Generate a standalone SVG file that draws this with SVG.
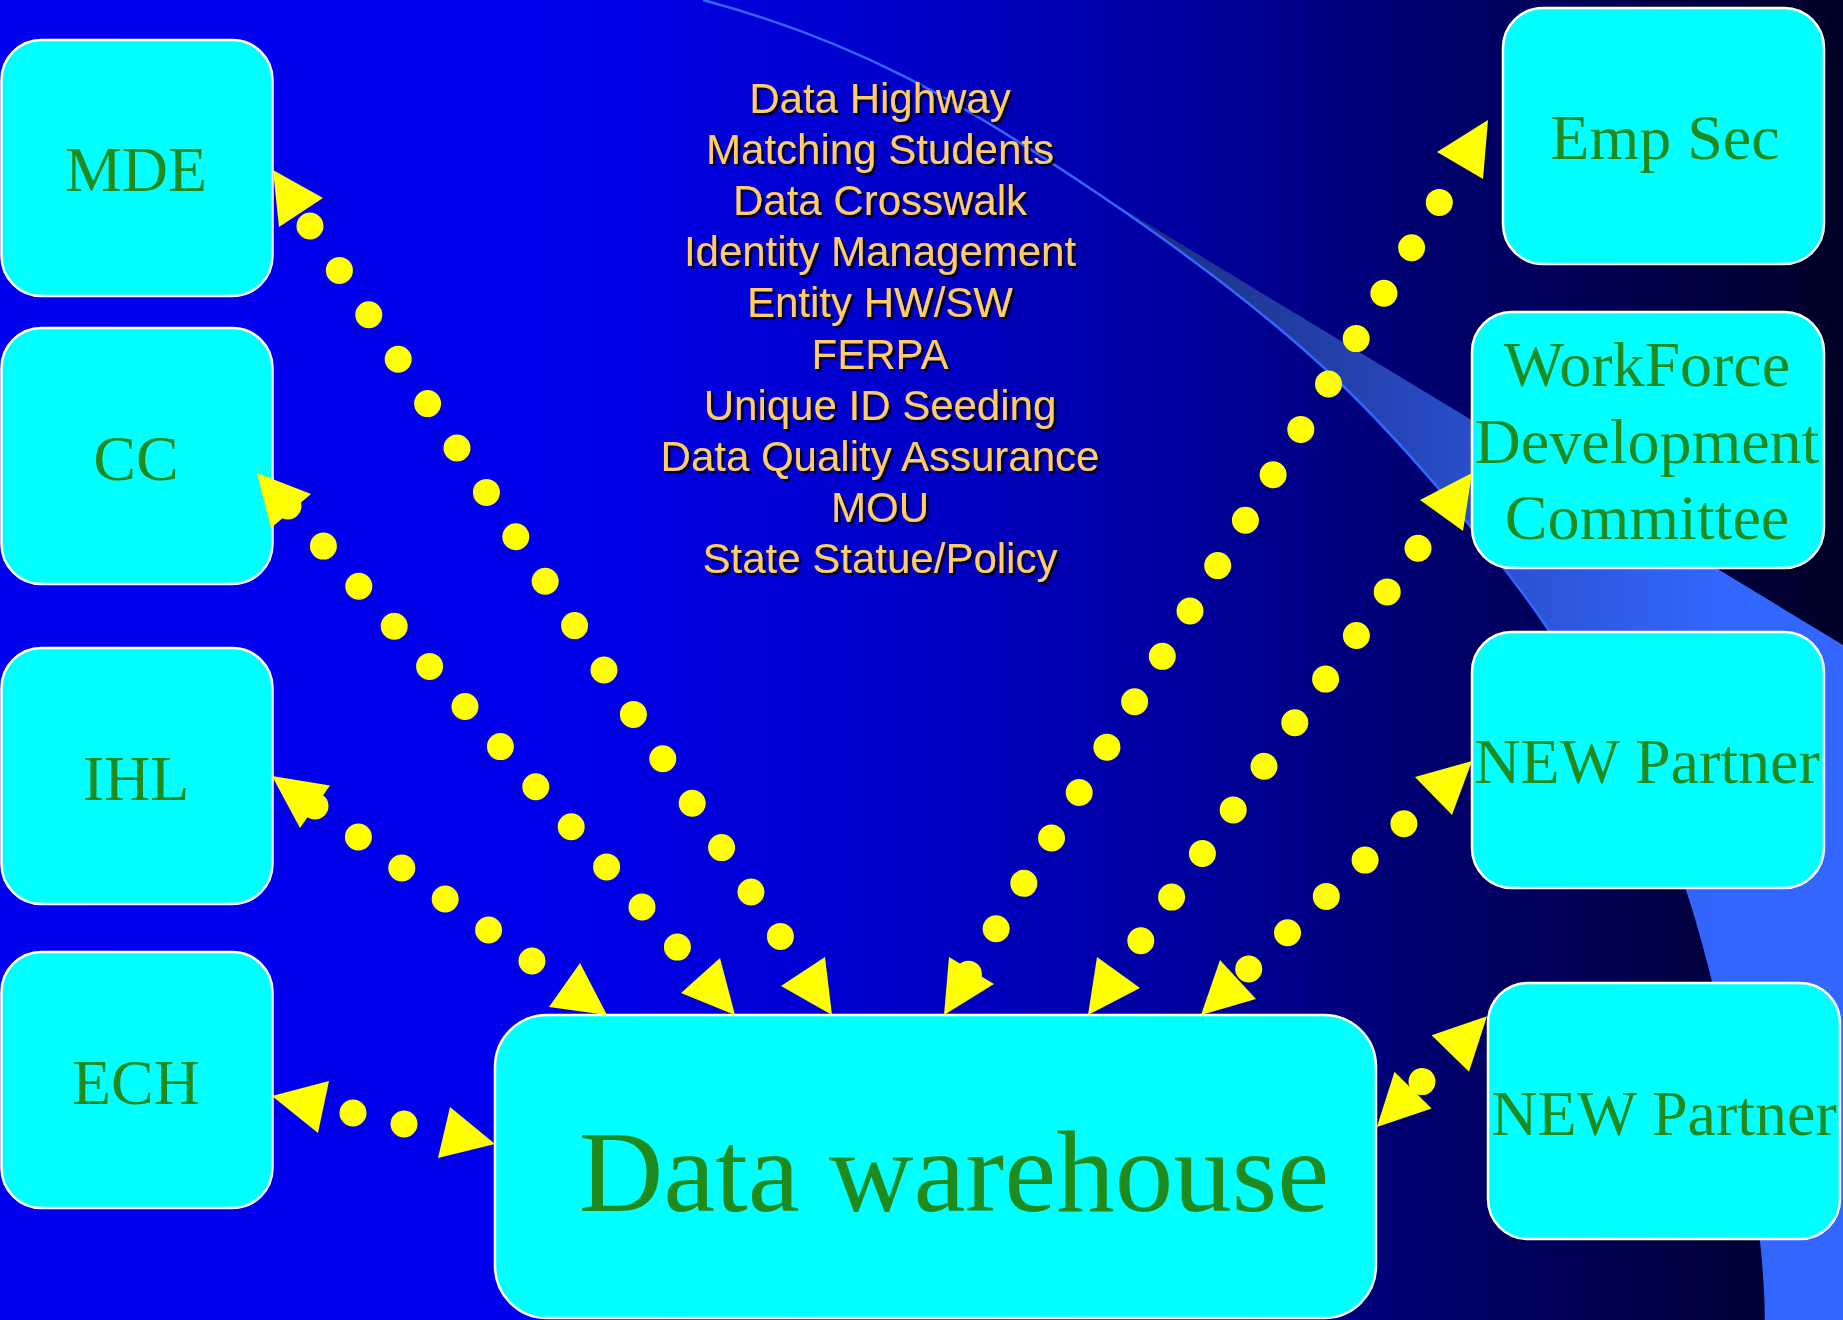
<svg xmlns="http://www.w3.org/2000/svg" width="1843" height="1320" viewBox="0 0 1843 1320">
<defs>
<linearGradient id="bg" gradientUnits="userSpaceOnUse" x1="0" y1="0" x2="1843" y2="0">
<stop offset="0" stop-color="#0000F0"/>
<stop offset="0.3" stop-color="#0000EC"/>
<stop offset="0.5" stop-color="#0000C8"/>
<stop offset="0.65" stop-color="#00009C"/>
<stop offset="0.8" stop-color="#000066"/>
<stop offset="1" stop-color="#000028"/>
</linearGradient>
<linearGradient id="swoosh" gradientUnits="userSpaceOnUse" x1="1100" y1="0" x2="1720" y2="0">
<stop offset="0" stop-color="#1A2A78"/>
<stop offset="1" stop-color="#3366FF"/>
</linearGradient>
<filter id="shadow" x="-10%" y="-30%" width="120%" height="160%">
<feDropShadow dx="2.5" dy="2.5" stdDeviation="0.6" flood-color="#000000" flood-opacity="0.85"/>
</filter>
<style>
.box{fill:#00FFFF;stroke:#FFFFFF;stroke-width:2.5}
.lbl{font-family:"Liberation Serif","Times New Roman",serif;font-size:64px;fill:#1F8B1F;text-anchor:middle}
.big{font-size:117px}
.topic{font-family:"Liberation Sans",Arial,sans-serif;font-size:42px;fill:#FFCC66;text-anchor:middle;filter:url(#shadow)}
.dots{stroke:#FFFF00;stroke-width:27;stroke-linecap:round;fill:none}
.head{fill:#FFFF00}
</style>
</defs>

<g id="background">
<rect x="0" y="0" width="1843" height="1320" fill="url(#bg)"/>
<path d="M1100,195 C1180,249 1262,309 1337,380 C1407,447 1500,557 1550,632 C1595,699 1658,802 1688,892 C1718,982 1766,1200 1766,1320 L1843,1320 L1843,645 Z" fill="url(#swoosh)"/>
<path d="M703,0 C853,40 960,100 1100,195 C1180,249 1262,309 1337,380 C1407,447 1500,557 1550,632 C1595,699 1658,802 1688,892 C1718,982 1766,1200 1766,1320" fill="none" stroke="#3366FF" stroke-width="2.5"/>
</g>

<g id="topics">
<text class="topic" x="880" y="113">Data Highway</text>
<text class="topic" x="880" y="164.1">Matching Students</text>
<text class="topic" x="880" y="215.2">Data Crosswalk</text>
<text class="topic" x="880" y="266.3">Identity Management</text>
<text class="topic" x="880" y="317.4">Entity HW/SW</text>
<text class="topic" x="880" y="368.5">FERPA</text>
<text class="topic" x="880" y="419.6">Unique ID Seeding</text>
<text class="topic" x="880" y="470.7">Data Quality Assurance</text>
<text class="topic" x="880" y="521.8">MOU</text>
<text class="topic" x="880" y="572.9">State Statue/Policy</text>
</g>

<g id="node-mde"><rect class="box" x="1.5" y="40" width="271" height="256" rx="40"/><text class="lbl" x="136" y="191">MDE</text></g>
<g id="node-cc"><rect class="box" x="1.5" y="328" width="271" height="256" rx="40"/><text class="lbl" x="136" y="479.5">CC</text></g>
<g id="node-ihl"><rect class="box" x="1.5" y="648" width="271" height="256" rx="40"/><text class="lbl" x="136" y="800">IHL</text></g>
<g id="node-ech"><rect class="box" x="1.5" y="952" width="271" height="256" rx="40"/><text class="lbl" x="136" y="1104">ECH</text></g>
<g id="node-empsec"><rect class="box" x="1503" y="8" width="321" height="256" rx="40"/><text class="lbl" x="1665" y="159">Emp Sec</text></g>
<g id="node-wfdc"><rect class="box" x="1472" y="312" width="352" height="256" rx="40"/><text class="lbl" x="1647" y="386">WorkForce</text><text class="lbl" x="1647" y="462.5">Development</text><text class="lbl" x="1647" y="539">Committee</text></g>
<g id="node-np1"><rect class="box" x="1472" y="632" width="352" height="256" rx="40"/><text class="lbl" x="1647" y="783">NEW Partner</text></g>
<g id="node-np2"><rect class="box" x="1488" y="983" width="352" height="256" rx="40"/><text class="lbl" x="1664" y="1135">NEW Partner</text></g>
<g id="node-dw"><rect class="box" x="495" y="1015" width="881" height="303" rx="52"/><text class="lbl big" x="954" y="1211">Data warehouse</text></g>

<g id="connectors">
<g id="c-mde">
<line class="dots" x1="310" y1="226" x2="780.99" y2="937.29" stroke-dasharray="0 53.25"/>
<polygon class="head" points="273,170 323,198 279,227"/>
<polygon class="head" points="832,1015 825,957 781,986"/>
</g>
<g id="c-cc">
<line class="dots" x1="288" y1="506" x2="678.11" y2="947.9" stroke-dasharray="0 53.49"/>
<polygon class="head" points="257,473 311,494 271,528"/>
<polygon class="head" points="735,1015 720,958 681,993"/>
</g>
<g id="c-ihl">
<line class="dots" x1="315" y1="806" x2="532.87" y2="961.62" stroke-dasharray="0 53.33"/>
<polygon class="head" points="272,776 330,785.5 300,828"/>
<polygon class="head" points="607,1015 580,963 549,1007"/>
</g>
<g id="c-ech">
<line class="dots" x1="353" y1="1113" x2="405.02" y2="1124.22" stroke-dasharray="0 52.17"/>
<polygon class="head" points="272,1096 329,1081 318,1133"/>
<polygon class="head" points="495,1144 450,1107 438,1158"/>
</g>
<g id="c-empsec">
<line class="dots" x1="1439.3" y1="202.4" x2="967.85" y2="975.11" stroke-dasharray="0 53.18"/>
<polygon class="head" points="1488,120 1437,152 1483,179"/>
<polygon class="head" points="944,1015 949,957 994,984"/>
</g>
<g id="c-wfdc">
<line class="dots" x1="1418" y1="548.3" x2="1140.18" y2="941.57" stroke-dasharray="0 53.38"/>
<polygon class="head" points="1472,473 1420,500 1463,531"/>
<polygon class="head" points="1088,1015 1097,957 1140,988"/>
</g>
<g id="c-np1">
<line class="dots" x1="1403.9" y1="823.8" x2="1247.92" y2="969.73" stroke-dasharray="0 53.13"/>
<polygon class="head" points="1472,761 1415,777 1452,815"/>
<polygon class="head" points="1201,1015 1220,960 1256,999"/>
</g>
<g id="c-np2">
<line class="dots" x1="1422" y1="1081.6" x2="1422.7" y2="1080.9" stroke-dasharray="0 60"/>
<polygon class="head" points="1487,1016.3 1431.6,1035.3 1469,1071.7"/>
<polygon class="head" points="1376.9,1127 1394.5,1071.7 1431.6,1108.5"/>
</g>
</g>
</svg>
